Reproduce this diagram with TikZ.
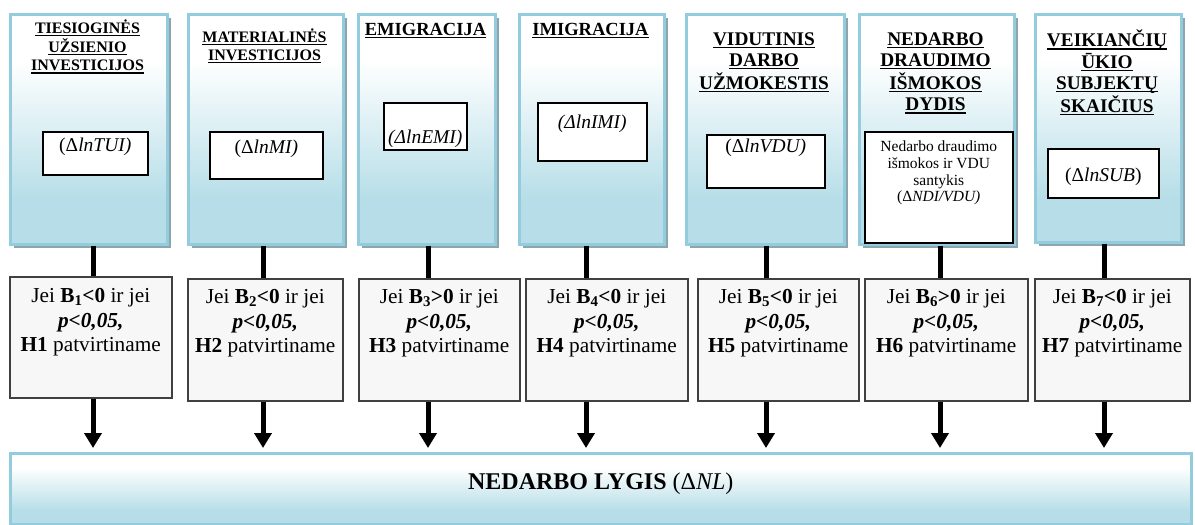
\documentclass[tikz,border=0pt]{standalone}
\usepackage{fontspec}
\setmainfont{Liberation Serif}
\usetikzlibrary{arrows.meta,shadows}
\definecolor{bbord}{RGB}{147,205,221}
\definecolor{lb}{RGB}{183,222,232}
\definecolor{shgray}{RGB}{141,166,174}
\definecolor{midfill}{RGB}{247,247,247}
\definecolor{midbord}{RGB}{64,64,64}
\pgfdeclareverticalshading{bshade}{100bp}{color(0bp)=(lb); color(35bp)=(lb); color(65bp)=(white); color(100bp)=(white)}
\newcommand\uln[1]{\setbox0=\hbox{#1}\rlap{\rule[-3pt]{\wd0}{1.4pt}}\box0}
\newcommand\jeitext[3]{\begin{tabular}[t]{@{}c@{}}Jei \textbf{B\textsubscript{#1}#20} ir jei\\\textbf{\textit{p<0,05,}}\\\textbf{H#3} patvirtiname\end{tabular}}
\newcommand\tlines[1]{\begin{tabular}[t]{@{}c@{}}#1\end{tabular}}
\tikzset{
  topbox/.style={anchor=north west, draw=bbord, line width=2.5pt, shade, shading=bshade,
    drop shadow={shadow xshift=4pt, shadow yshift=-4pt, fill=shgray, opacity=1},
    minimum height=230pt, inner sep=0pt},
  ttl/.style={anchor=base, inner sep=0pt},
  fA/.style={font=\fontsize{16}{18.3}\selectfont\bfseries},
  fB/.style={font=\fontsize{18.5}{20}\selectfont\bfseries},
  fC/.style={font=\fontsize{19.3}{21.3}\selectfont\bfseries},
  inbox/.style={anchor=north west, draw=black, line width=1.6pt, fill=white,
    inner sep=0pt, font=\fontsize{19.5}{22}\selectfont},
  midbox/.style={anchor=north west, draw=midbord, line width=1.5pt, fill=midfill,
    inner sep=0pt, text height=25pt, text depth=97pt, font=\fontsize{21.3}{24.5}\selectfont},
  botbox/.style={anchor=north west, draw=bbord, line width=2.5pt, shade, shading=bshade,
    inner sep=0pt, minimum width=1181pt, text height=36pt, text depth=35pt,
    font=\fontsize{24}{28}\selectfont},
  link/.style={line width=5pt, draw=black},
  arr/.style={line width=5pt, draw=black, -{Triangle[width=17pt,length=15pt]}, shorten >=4pt}
}
\begin{document}
\begin{tikzpicture}[x=1pt,y=-1pt]
\useasboundingbox (0,0) rectangle (1195,525);
% top boxes
\node[topbox, minimum width=157pt] (b1) at (9,13) {};
\node[topbox, minimum width=155pt] (b2) at (187,13) {};
\node[topbox, minimum width=137pt] (b3) at (357,13) {};
\node[topbox, minimum width=145pt] (b4) at (518,13) {};
\node[topbox, minimum width=158pt] (b5) at (685,13) {};
\node[topbox, minimum width=155pt] (b6) at (858,13) {};
\node[topbox, minimum width=146pt, minimum height=228pt] (b7) at (1034,13) {};
% titles
\node[ttl, fA] (t1) at (87.5,33) {\tlines{\uln{TIESIOGINĖS}\\\uln{UŽSIENIO}\\\uln{INVESTICIJOS}}};
\node[ttl, fA] (t2) at (264.5,42) {\tlines{\uln{MATERIALINĖS}\\\uln{INVESTICIJOS}}};
\node[ttl, fB] (t3) at (425.5,35) {\uln{EMIGRACIJA}};
\node[ttl, fB] (t4) at (590.5,35) {\uln{IMIGRACIJA}};
\node[ttl, fC] (t5) at (764,45) {\tlines{\uln{VIDUTINIS}\\\uln{DARBO}\\\uln{UŽMOKESTIS}}};
\node[ttl, fC] (t6) at (935.5,45) {\tlines{\uln{NEDARBO}\\\uln{DRAUDIMO}\\\uln{IŠMOKOS}\\\uln{DYDIS}}};
\node[ttl, fC] (t7) at (1107,46.5) {\tlines{\uln{VEIKIANČIŲ}\\\uln{ŪKIO}\\\uln{SUBJEKTŲ}\\\uln{SKAIČIUS}}};
% inner boxes
\node[inbox, minimum width=105pt, text height=20pt, text depth=23pt] (i1) at (42,131) {(Δ\textit{lnTUI)}};
\node[inbox, minimum width=113pt, text height=22pt, text depth=25pt] (i2) at (209,131) {(Δ\textit{lnMI)}};
\node[inbox, minimum width=83pt, text height=41pt, text depth=6pt] (i3) at (383,102) {\textit{(ΔlnEMI)}};
\node[inbox, minimum width=109pt, text height=26pt, text depth=32pt] (i4) at (537,102) {\textit{(ΔlnIMI)}};
\node[inbox, minimum width=118pt, text height=18pt, text depth=35pt] (i5) at (706,134) {(Δ\textit{lnVDU)}};
\node[inbox, minimum width=148pt, text height=20pt, text depth=91pt, font=\fontsize{15.5}{16.7}\selectfont] (i6) at (864,131)
  {\tlines{Nedarbo draudimo\\išmokos ir VDU\\santykis\\(Δ\textit{NDI/VDU)}}};
\node[inbox, minimum width=111pt, text height=33pt, text depth=16pt] (i7) at (1047,148) {(Δ\textit{lnSUB})};
% middle boxes
\node[midbox, minimum width=162pt, text height=26pt, text depth=95pt] (m1) at (9,276) {\jeitext{1}{<}{1}};
\node[midbox, minimum width=155pt] (m2) at (187,278) {\jeitext{2}{<}{2}};
\node[midbox, minimum width=161pt] (m3) at (358,278) {\jeitext{3}{>}{3}};
\node[midbox, minimum width=162pt] (m4) at (525,278) {\jeitext{4}{<}{4}};
\node[midbox, minimum width=161pt] (m5) at (697,278) {\jeitext{5}{<}{5}};
\node[midbox, minimum width=163pt] (m6) at (864,278) {\jeitext{6}{>}{6}};
\node[midbox, minimum width=155pt] (m7) at (1034,278) {\jeitext{7}{<}{7}};
% bottom box
\node[botbox] (nb) at (9,452) {\textbf{NEDARBO LYGIS} (Δ\textit{NL})};
% connector columns
\coordinate (x1) at (93,0);
\coordinate (x2) at (263,0);
\coordinate (x3) at (428,0);
\coordinate (x4) at (586,0);
\coordinate (x5) at (766,0);
\coordinate (x6) at (940,0);
\coordinate (x7) at (1104,0);
\foreach \k in {1,...,7}{
  \draw[link] (b\k.south -| x\k) -- (m\k.north -| x\k);
  \draw[arr] (m\k.south -| x\k) -- (nb.north -| x\k);
}
\end{tikzpicture}
\end{document}
